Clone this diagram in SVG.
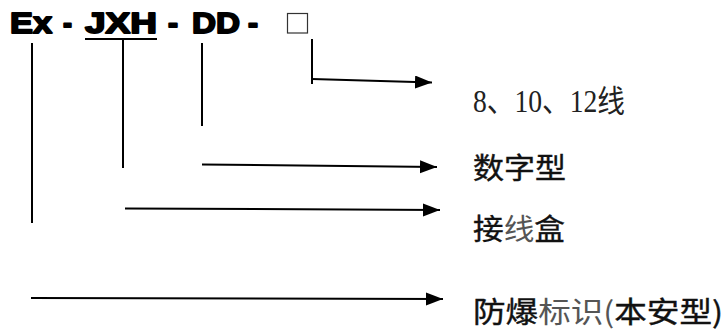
<svg xmlns="http://www.w3.org/2000/svg" width="725" height="331" viewBox="0 0 725 331">
<style>
.t{font-family:"Liberation Sans",Arial,sans-serif;font-weight:bold;font-size:29px;fill:#000;stroke:#000;stroke-width:1.8;stroke-linejoin:round}
.c{font-family:"Noto Sans CJK SC",sans-serif;font-size:29px;fill:#111;stroke:#111;stroke-width:0.4}
.l{fill:#555;stroke:none}
.s{font-family:"Liberation Serif","Noto Sans CJK SC",serif;font-size:31px;fill:#222}
.ln{stroke:#000;stroke-width:2;fill:none}
</style>
<defs>
<marker id="ah" markerUnits="userSpaceOnUse" markerWidth="18" markerHeight="14" refX="17" refY="6.5" orient="auto">
<path d="M0,0 L17,6.5 L0,13 z" fill="#000"/>
</marker>
</defs>
<g id="code">
<text class="t" x="10" y="33" textLength="42" lengthAdjust="spacingAndGlyphs">Ex</text>
<text class="t" x="63" y="33" textLength="9" lengthAdjust="spacingAndGlyphs">-</text>
<text class="t" x="85" y="33" textLength="72" lengthAdjust="spacingAndGlyphs">JXH</text>
<line x1="85" y1="39" x2="157" y2="39" stroke="#000" stroke-width="2"/>
<text class="t" x="168" y="33" textLength="10" lengthAdjust="spacingAndGlyphs">-</text>
<text class="t" x="192" y="33" textLength="48" lengthAdjust="spacingAndGlyphs">DD</text>
<text class="t" x="248" y="33" textLength="10" lengthAdjust="spacingAndGlyphs">-</text>
<rect x="287.5" y="13.5" width="20" height="19.5" fill="none" stroke="#333" stroke-width="1.2"/>
</g>
<g id="connectors">
<line class="ln" x1="32" y1="43" x2="32" y2="223"/>
<line class="ln" x1="123" y1="39" x2="123" y2="168"/>
<line class="ln" x1="202" y1="43" x2="202" y2="126"/>
<line class="ln" x1="312" y1="39" x2="312" y2="84"/>
<line class="ln" x1="312" y1="79" x2="432" y2="82.5" marker-end="url(#ah)"/>
<line class="ln" x1="202" y1="164.5" x2="437" y2="167" marker-end="url(#ah)"/>
<line class="ln" x1="125" y1="208.5" x2="440" y2="210" marker-end="url(#ah)"/>
<line class="ln" x1="31" y1="298" x2="443" y2="299" marker-end="url(#ah)"/>
</g>
<g id="label-lines">
<text class="s" x="473" y="112" textLength="152" lengthAdjust="spacingAndGlyphs">8、10、12线</text>
</g>
<g id="label-digital">
<text class="c" x="473" y="179" textLength="93" lengthAdjust="spacingAndGlyphs">数字型</text>
</g>
<g id="label-box">
<text class="c" x="473" y="240" textLength="92" lengthAdjust="spacingAndGlyphs">接<tspan class="l">线</tspan>盒</text>
</g>
<g id="label-ex">
<text class="c" x="473" y="323" textLength="250" lengthAdjust="spacingAndGlyphs">防爆<tspan class="l">标识(</tspan>本安型)</text>
</g>
</svg>
